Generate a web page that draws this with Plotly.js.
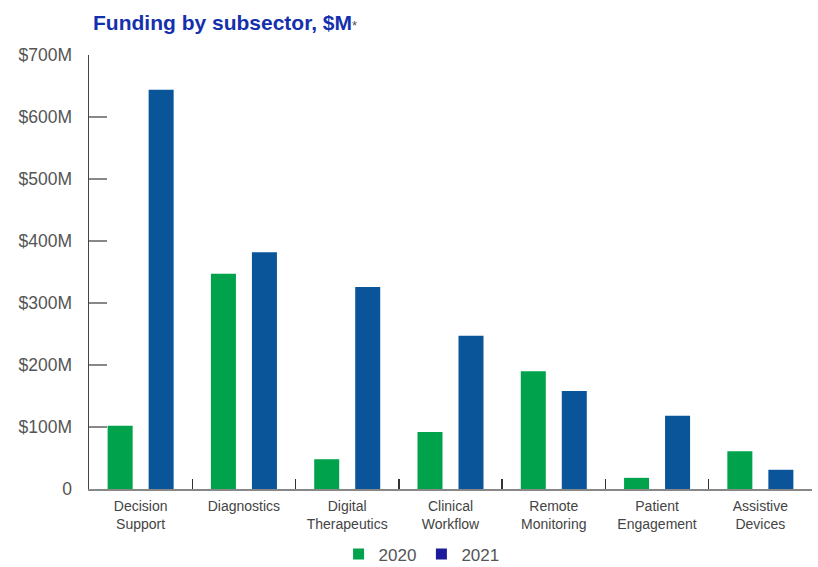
<!DOCTYPE html>
<html><head><meta charset="utf-8">
<script src="https://cdn.plot.ly/plotly-3.0.1.min.js"></script>
<style>body{margin:0;background:#fff}#c{width:818px;height:567px}</style>
</head><body><div id="c"></div>
<script>
const categories = ["Decision<br>Support","Diagnostics","Digital<br>Therapeutics","Clinical<br>Workflow","Remote<br>Monitoring","Patient<br>Engagement","Assistive<br>Devices"];
const values2020 = [102, 347, 48, 92, 190, 18, 61];
const values2021 = [644, 382, 326, 247, 158, 118, 31];
const yTickVals = [0,100,200,300,400,500,600,700];
const yTickText = ["0","$100M","$200M","$300M","$400M","$500M","$600M","$700M"];

const green = "#00a24b", blue = "#0a5499";
const traces = [
  {type:"bar", x:categories, y:values2020, name:"2020", marker:{color:green}, showlegend:false, hoverinfo:"y"},
  {type:"bar", x:categories, y:values2021, name:"2021", marker:{color:blue}, showlegend:false, hoverinfo:"y"},
  {type:"scatter", mode:"markers", x:[null], y:[null], name:"2020", marker:{symbol:"square", size:11, color:green}},
  {type:"scatter", mode:"markers", x:[null], y:[null], name:"2021", marker:{symbol:"square", size:11, color:"#1e1a9c"}}
];
const layout = {
  width:818, height:567,
  margin:{l:89, r:6, t:55, b:78, autoexpand:false},
  paper_bgcolor:"#fff", plot_bgcolor:"#fff",
  font:{family:"Liberation Sans, Arial, sans-serif", color:"#555"},
  title:{text:"<b>Funding by subsector, $M</b><span style='font-size:13px;color:#555'>*</span>", x:93/818, xanchor:"left", y:0.96, yanchor:"middle", font:{size:21, color:"#1530ad"}},
  barmode:"group", bargap:0.206, bargroupgap:0.39,
  xaxis:{type:"category", automargin:false, showline:true, linecolor:"#888", linewidth:2, ticks:"inside", tickson:"boundaries", ticklen:10, tickcolor:"#333", tickwidth:1.5, showgrid:false, tickfont:{size:14, color:"#444"}, ticklabelstandoff:3},
  yaxis:{automargin:false, range:[0,700], tickvals:yTickVals, ticktext:yTickText, showline:true, linecolor:"#444", linewidth:1.5, ticks:"inside", ticklen:18, tickcolor:"#888", tickwidth:2, showgrid:false, zeroline:false, tickfont:{size:17.5, color:"#555"}, ticklabelstandoff:12},
  legend:{orientation:"h", x:0.46, xanchor:"center", yref:"container", y:0.022, yanchor:"middle", font:{size:17, color:"#555"}, itemwidth:30, tracegroupgap:0}
};
Plotly.newPlot("c", traces, layout, {displayModeBar:false, staticPlot:true});
</script></body></html>
